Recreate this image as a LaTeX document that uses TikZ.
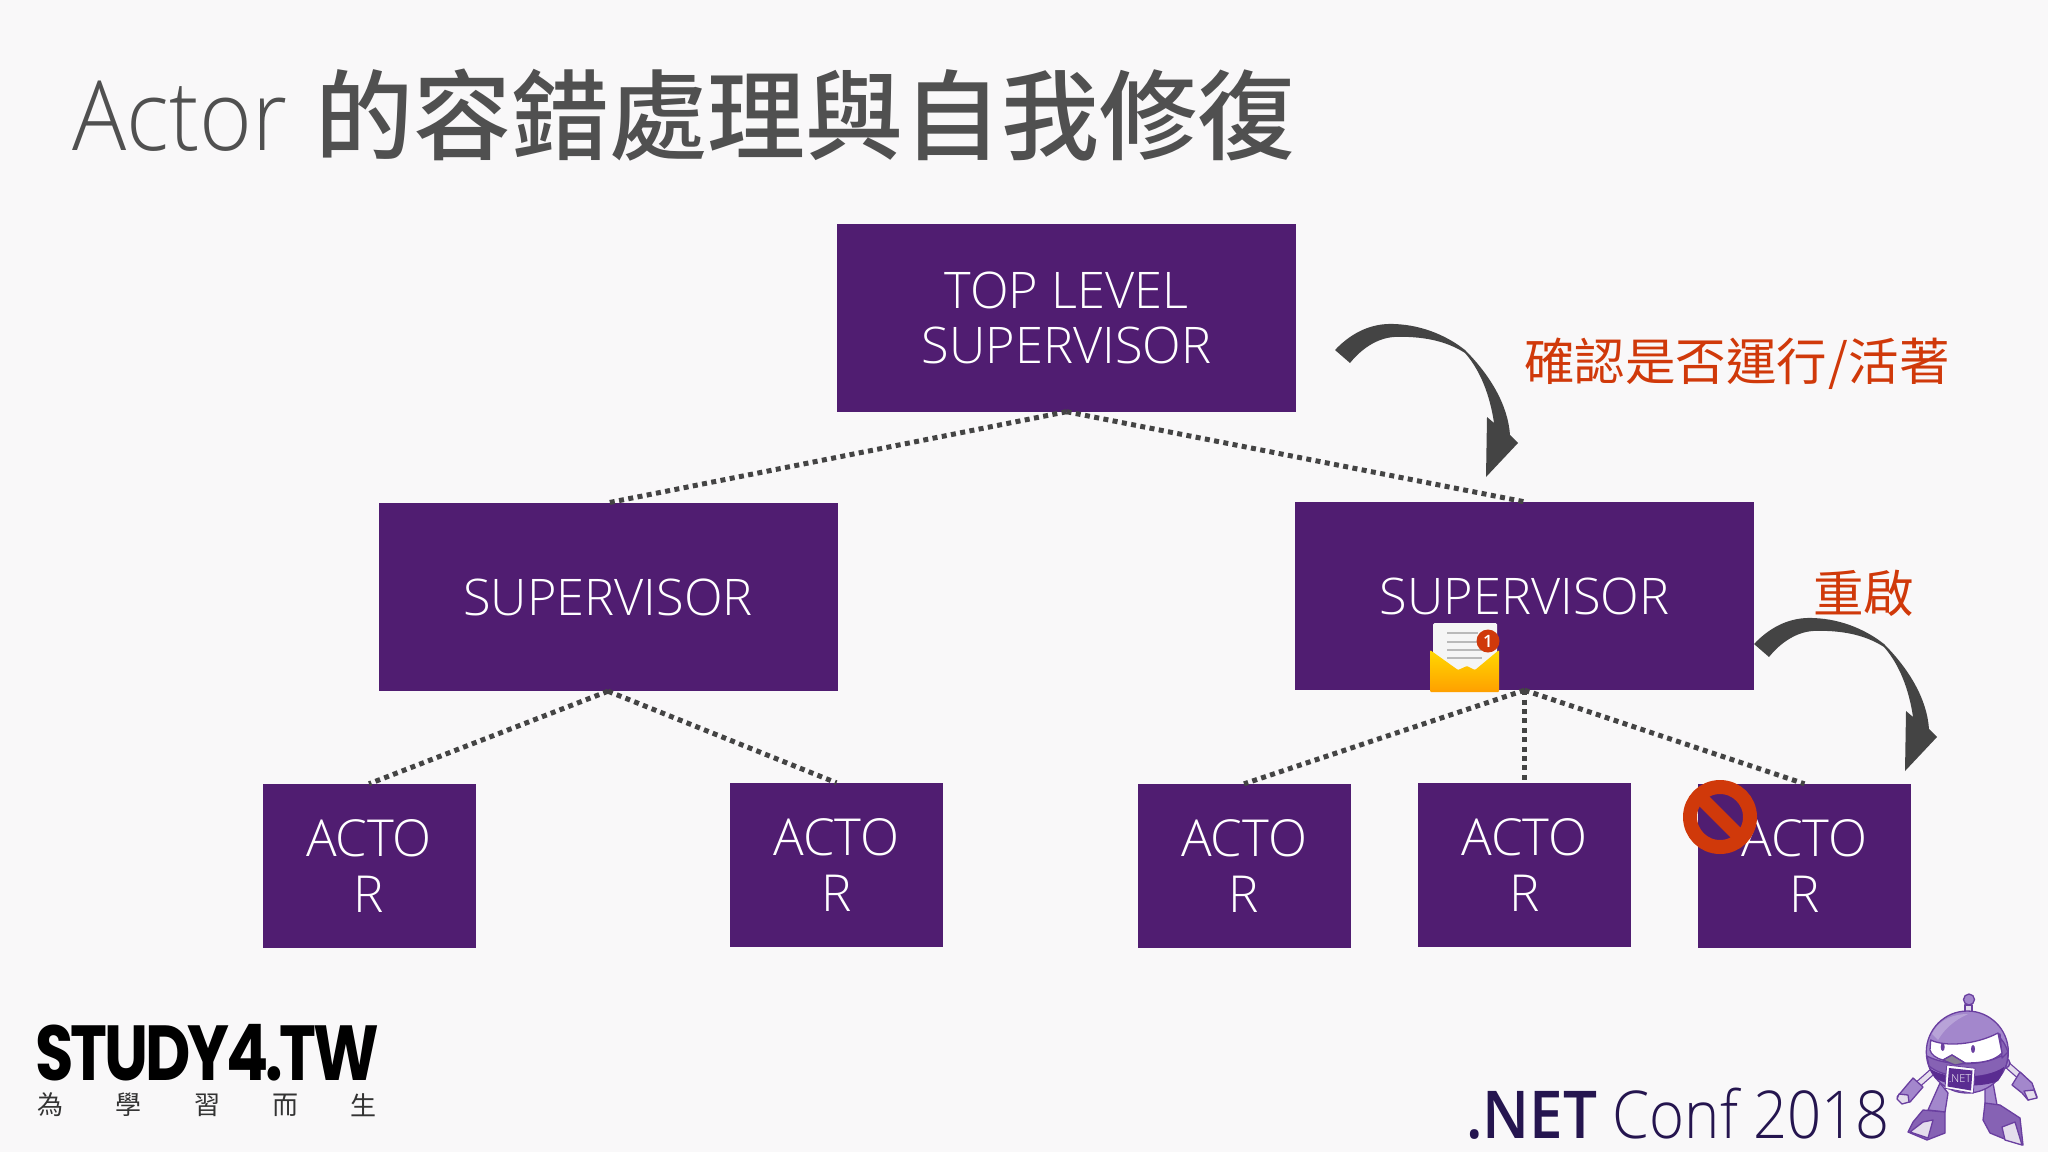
\documentclass[tikz,border=0pt]{standalone}
\usepackage{fontspec}
\setmainfont{Open Sans Light}
\newfontfamily\titlefont{Open Sans Light}[FakeStretch=0.93]
\newfontfamily\conffont{Open Sans Light}[FakeStretch=0.905]
\newfontfamily\cjk{Noto Sans CJK TC}
\newfontfamily\cjkm{Noto Sans CJK TC Medium}
\newfontfamily\boldsans{Open Sans}[UprightFont=* Semibold,FakeStretch=0.91]
\newfontfamily\badgefont{Open Sans}[UprightFont=* Semibold]
\newfontfamily\logofont{Poppins}[UprightFont=* Bold,LetterSpace=-4,FakeStretch=0.8]
\definecolor{bgc}{HTML}{F9F8F9}
\definecolor{boxc}{HTML}{501D71}
\definecolor{linec}{HTML}{444444}
\definecolor{redc}{HTML}{D0390A}
\definecolor{titlec}{HTML}{505050}
\definecolor{netc}{HTML}{25154F}
\definecolor{robl}{HTML}{A387CC}
\definecolor{robh}{HTML}{B8A3D8}
\definecolor{robm}{HTML}{8662B4}
\definecolor{robd}{HTML}{5A2C91}
\definecolor{robo}{HTML}{6A3FA0}
\definecolor{robp}{HTML}{E4DDEC}
\tikzset{
  bigbox/.style={rectangle,fill=boxc,text=white,inner sep=0pt,minimum width=459pt,minimum height=188pt,align=center,font=\fontsize{50.5}{55}\selectfont},
  actorbox/.style={rectangle,fill=boxc,text=white,inner sep=0pt,minimum width=213pt,minimum height=164pt,align=center,font=\fontsize{51}{55.5}\selectfont},
  dotline/.style={draw=linec,line width=5pt,dash pattern=on 5pt off 4.4pt},
  redtext/.style={text=redc,inner sep=0pt,font=\cjk\fontsize{50.5}{52}\selectfont},
  logocjk/.style={text=black!80,inner sep=0pt,font=\cjk\fontsize{26}{28}\selectfont},
  robline/.style={draw=robo,line width=1.3pt,line join=round},
  bentarrow/.pic={
    \fill[linec] (1335,350) .. controls (1352,332) and (1372,323) .. (1394,324)
      .. controls (1425,325) and (1450,338) .. (1465,350)
      .. controls (1490,375) and (1508,405) .. (1510,435)
      -- (1518,443) -- (1486,477) -- (1487,417) -- (1494,423)
      .. controls (1490,395) and (1480,370) .. (1465,353)
      .. controls (1445,340) and (1420,336) .. (1394,337)
      .. controls (1378,338) and (1362,348) .. (1350,363) -- cycle;
  }
}
\begin{document}
\begin{tikzpicture}[x=1pt,y=-1pt]
\useasboundingbox (0,0) rectangle (2048,1152);
\fill[bgc] (0,0) rectangle (2048,1152);

% title
\node[anchor=base west,inner sep=0pt,text=titlec,font=\titlefont\fontsize{97}{100}\selectfont] (titlea) at (72,150) {Actor};
\node[anchor=west,inner sep=0pt,text=titlec,font=\cjkm\fontsize{98}{100}\selectfont] (titleb) at (315,115) {的容錯處理與自我修復};

% boxes
\node[bigbox] (top) at (1066.5,317.5) {TOP LEVEL\\SUPERVISOR};
\node[bigbox] (supl) at (608,597) {SUPERVISOR};
\node[bigbox] (supr) at (1524.5,596) {SUPERVISOR};
\node[actorbox] (a1) at (369,866) {ACTO\\R};
\node[actorbox] (a2) at (836.5,865) {ACTO\\R};
\node[actorbox] (a3) at (1244,866) {ACTO\\R};
\node[actorbox] (a4) at (1524.5,865) {ACTO\\R};
\node[actorbox] (a5) at (1804.5,866) {ACTO\\R};

% connectors
\draw[dotline] (top.south) -- (supl.north);
\draw[dotline] (top.south) -- (supr.north);
\draw[dotline] (supl.south) -- (a1.north);
\draw[dotline] (supl.south) -- (a2.north);
\draw[dotline] (supr.south) -- (a3.north);
\draw[dotline] (supr.south) -- (a4.north);
\draw[dotline] (supr.south) -- (a5.north);

% bent arrows
\pic at (0,0) {bentarrow};
\pic at (419,294) {bentarrow};

% red labels
\node[redtext,anchor=west] (lab1) at (1524,364) {確認是否運行\kern1pt/\kern1pt活著};
\node[redtext,anchor=west] (lab2) at (1813,593) {重啟};

% envelope
\fill[rounded corners=1.5pt,fill=white!92!gray] (1433,623) rectangle (1497,675);
\foreach \yy/\xe in {633/1478,642/1478,650/1482,658/1482}{
  \draw[line width=1.4pt,draw=gray!55] (1447,\yy) -- (\xe,\yy);
}
\shade[top color=yellow!70!orange,bottom color=orange!75!yellow,rounded corners=1pt]
  (1430,650) -- (1458,670) -- (1467,666) -- (1475,670) -- (1499,650) -- (1499,692) -- (1430,692) -- cycle;
\fill[redc] (1488,641) circle (11.5);
\node[inner sep=0pt,text=white,font=\badgefont\fontsize{17}{17}\selectfont] (badge) at (1488,641) {1};

% forbidden sign
\draw[redc,line width=14pt] (1720,817) circle (30);
\draw[redc,line width=14pt] (1699,796) -- (1741,838);

% logo
\node[anchor=base west,inner sep=0pt,text=black,font=\logofont\fontsize{78}{80}\selectfont] (logo) at (35,1080) {STUDY4.TW};
\node[logocjk] (c1) at (50,1105) {為};
\node[logocjk] (c2) at (128,1105) {學};
\node[logocjk] (c3) at (207,1105) {習};
\node[logocjk] (c4) at (285,1105) {而};
\node[logocjk] (c5) at (363,1105) {生};

% .NET Conf
\node[anchor=base west,inner sep=0pt,text=netc,font=\conffont\fontsize{66}{70}\selectfont] (conf) at (1466,1138) {{\boldsans .NET} Conf 2018};

% robot
\begin{scope}
  % legs
  \fill[robl,robline] (1940,1083) -- (1948,1093) -- (1945,1112) -- (1928,1110) -- cycle;
  \fill[robl,robline] (1985,1087) -- (1993,1083) -- (1997,1105) -- (1985,1105) -- cycle;
  \fill[robm,robline] (1923,1110) -- (1945,1112) -- (1945,1133) -- (1927,1140) -- (1908,1132) -- (1913,1122) -- cycle;
  \fill[robp,robline] (1923,1122) -- (1933,1120) -- (1928,1138) -- (1910,1132) -- cycle;
  \fill[robm,robline] (1985,1103) -- (2000,1105) -- (2020,1118) -- (2023,1145) -- (2007,1140) -- (1990,1133) -- (1983,1120) -- cycle;
  \fill[robp,robline] (2002,1127) -- (2015,1122) -- (2022,1145) -- (2005,1140) -- cycle;
  % arms
  \draw[robo,line width=7pt] (1932,1072) -- (1915,1087);
  \draw[robp,line width=4.5pt] (1932,1072) -- (1915,1087);
  \draw[robo,line width=7pt] (2005,1063) -- (2022,1078);
  \draw[robp,line width=4.5pt] (2005,1063) -- (2022,1078);
  \fill[robl,robline] (2005,1063) circle (5);
  \fill[robl,robline] (1913,1078) -- (1923,1087) -- (1910,1102) -- (1902,1103) -- (1897,1097) -- (1907,1085) -- cycle;
  \fill[robp,robline] (1899,1094) -- (1908,1095) -- (1909,1102) -- (1902,1104) -- (1897,1099) -- cycle;
  \fill[robl,robline] (2020,1072) -- (2032,1083) -- (2037,1097) -- (2028,1100) -- (2022,1093) -- (2012,1085) -- cycle;
  \fill[robp,robline] (2024,1091) -- (2034,1090) -- (2037,1098) -- (2028,1100) -- cycle;
  % antenna
  \fill[robp,robline] (1965,1005) rectangle (1972,1016);
  \fill[robl,robline] (1969,999.5) circle (5.5);
  % head
  \fill[robl,robline] (1967.3,1052) circle (41);
  \fill[robh] (1932,1034) .. controls (1940,1018) and (1955,1014) .. (1968,1014)
     .. controls (1955,1020) and (1945,1028) .. (1938,1040) -- cycle;
  % lower band under the visor
  \fill[robm,robline] (1927,1056) .. controls (1945,1066) and (1985,1068) .. (2008,1052)
     .. controls (2008,1058) and (2007,1064) .. (2005,1068)
     .. controls (1985,1080) and (1945,1080) .. (1929,1066) -- cycle;
  % visor
  \fill[robm,robline] (1996,1034) .. controls (2002,1038) and (2006,1046) .. (2008,1052) -- (2002,1058) -- (2000,1034) -- cycle;
  \fill[white,robline] (1930.7,1040) .. controls (1945,1047) and (1975,1045) .. (1998,1033)
     -- (2002,1053) .. controls (1995,1060) and (1985,1063) .. (1965,1063)
     -- (1952,1055) -- (1943,1060) .. controls (1935,1058) and (1931,1054) .. (1930,1050) -- cycle;
  % eyes and beak
  \fill[robo] (1942.7,1047) ellipse (2 and 4);
  \fill[robo] (1973,1049) ellipse (2 and 4);
  \fill[gray!70!robl,robline] (1943,1060) -- (1952,1055) -- (1965,1063) -- (1955,1065) -- cycle;
  % belt
  \fill[robd] (1929,1068) .. controls (1945,1080) and (1985,1080) .. (2004,1067)
     .. controls (2003,1072) and (2001,1077) .. (1998,1081)
     .. controls (1985,1087) and (1950,1088) .. (1935,1078) -- cycle;
  % badge
  \fill[white,draw=robo,line width=.8pt] (1946.7,1065) -- (1975,1068.3) -- (1973.3,1093.3) -- (1945,1088.3) -- cycle;
  \fill[robd] (1949,1068) -- (1972.5,1070.5) -- (1971,1090.5) -- (1947.5,1086.5) -- cycle;
  \node[inner sep=0pt,text=white,font=\fontsize{11}{11}\selectfont] (netbadge) at (1960,1079) {.NET};
\end{scope}
\end{tikzpicture}
\end{document}
